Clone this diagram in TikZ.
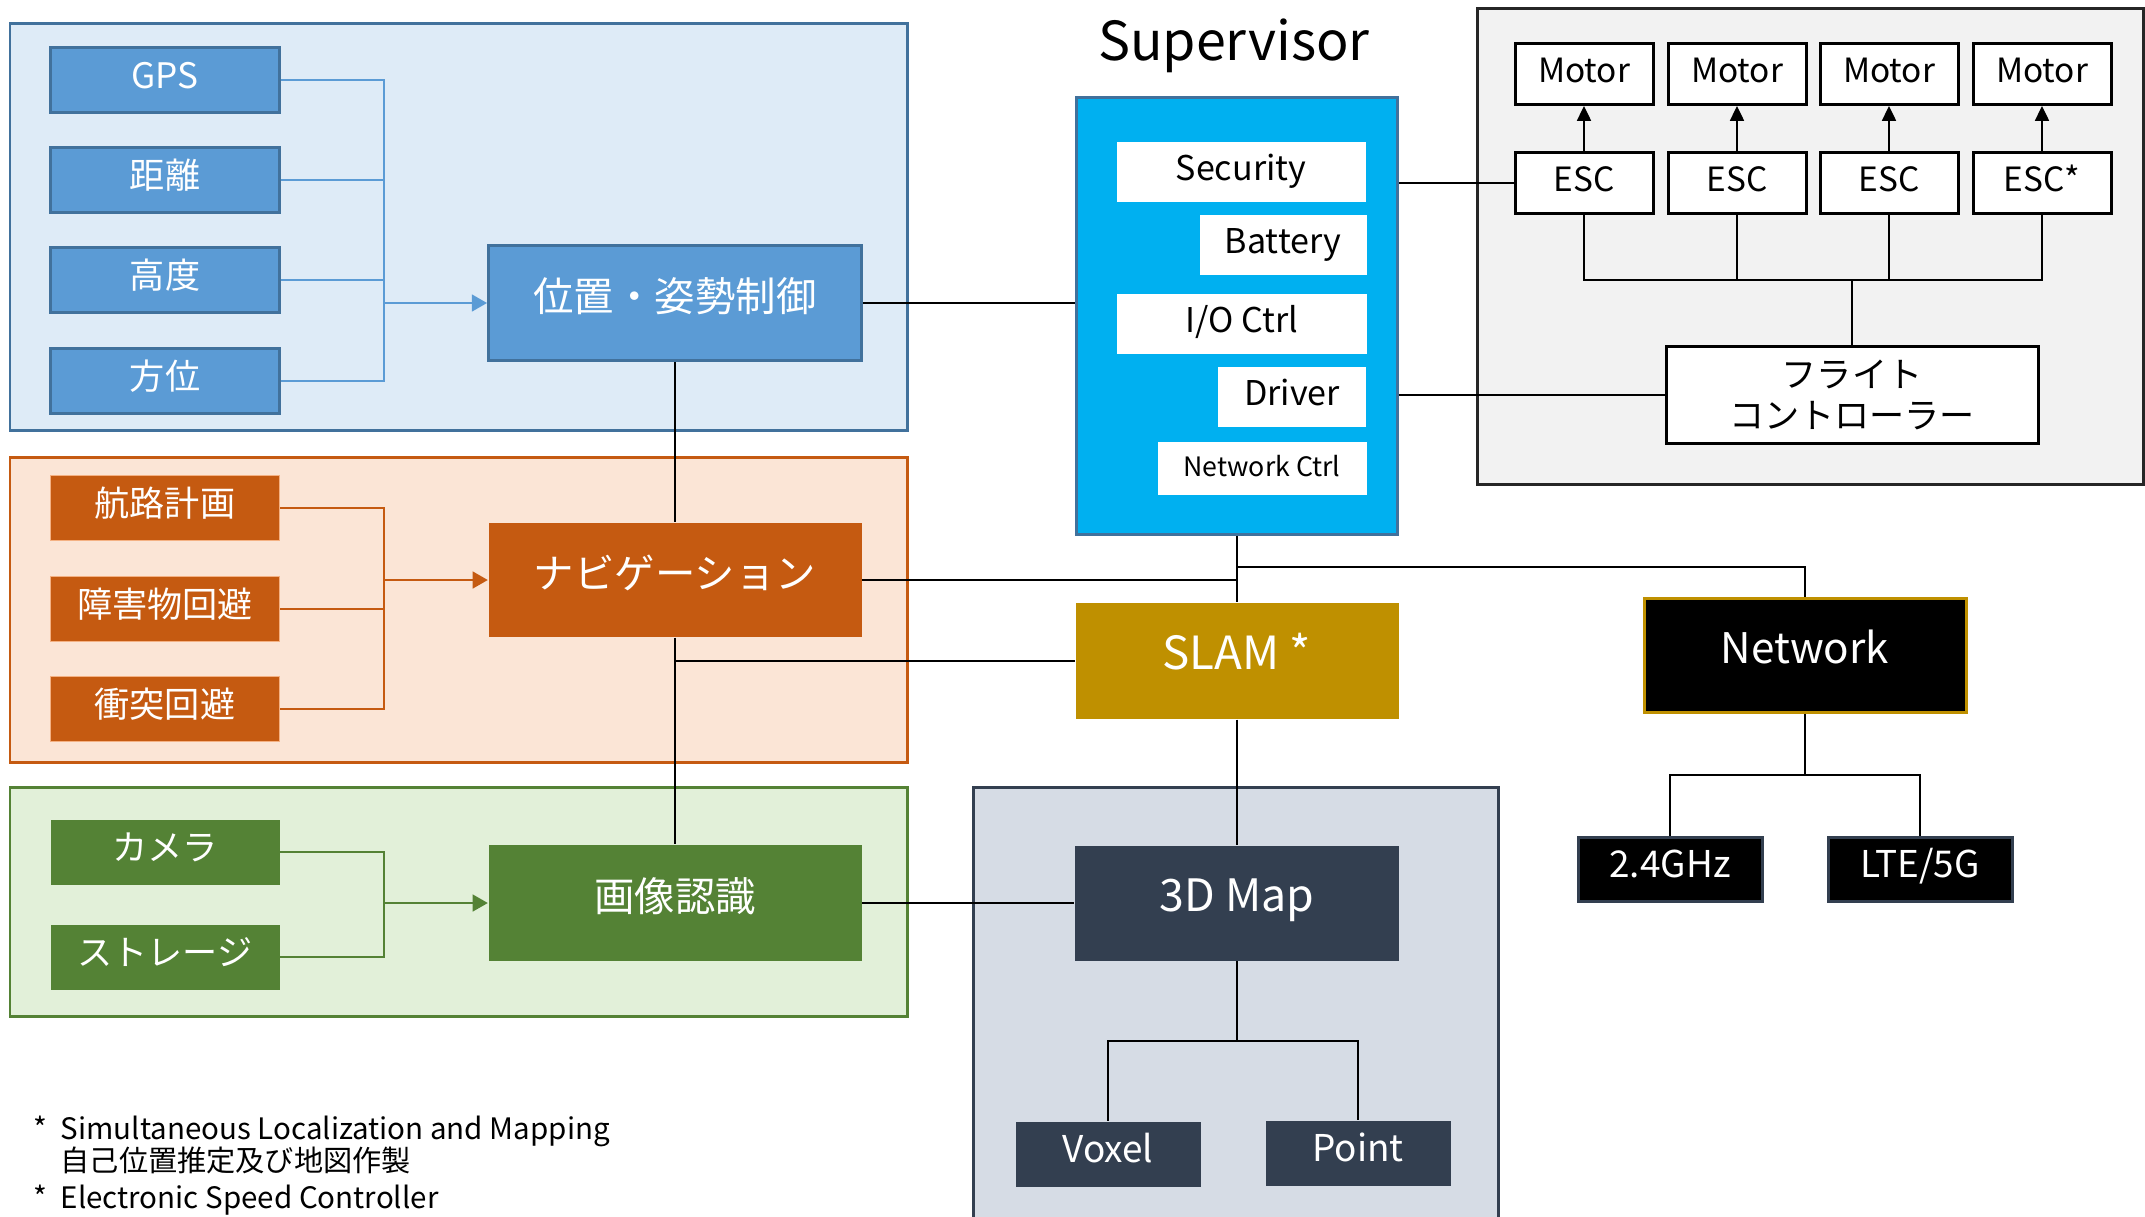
\documentclass[tikz,border=0pt]{standalone}
\usepackage{fontspec}
\setmainfont{Noto Sans CJK JP}
\usetikzlibrary{arrows.meta}

\definecolor{blueA}{HTML}{5B9BD5}
\definecolor{blueD}{HTML}{41719C}
\definecolor{blueL}{HTML}{DEEBF7}
\definecolor{orangeA}{HTML}{C55A11}
\definecolor{orangeE}{HTML}{F4B183}
\definecolor{orangeL}{HTML}{FBE5D6}
\definecolor{greenA}{HTML}{548235}
\definecolor{greenL}{HTML}{E2F0D9}
\definecolor{cyanS}{HTML}{00B0F0}
\definecolor{gold}{HTML}{BF9000}
\definecolor{navy}{HTML}{333F50}
\definecolor{navyL}{HTML}{D6DCE5}
\definecolor{grayL}{HTML}{F2F2F2}
\definecolor{grayD}{HTML}{262626}

\tikzset{
  raised/.style={text height=0.72em, text depth=0.22em},
  box/.style={inner sep=0pt, align=center, text=white, raised},
  small/.style={box, minimum width=22.9mm, minimum height=6.5mm, font=\fontsize{10}{12}\selectfont},
  big/.style={box, minimum width=37.3mm, minimum height=11.5mm, font=\fontsize{11.5}{14}\selectfont},
  bluebox/.style={fill=blueA, draw=blueD, line width=0.85pt},
  orangebox/.style={fill=orangeA, draw=orangeE, line width=0.4pt},
  greenbox/.style={fill=greenA},
  mapbox/.style={box, fill=navy, minimum width=18.5mm, minimum height=6.5mm, font=\fontsize{10.5}{12}\selectfont},
  radiobox/.style={box, fill=black, draw=navy, line width=0.85pt, minimum width=18.4mm, minimum height=6.4mm, font=\fontsize{10.5}{12}\selectfont},
  wbox/.style={inner sep=0pt, raised, fill=white, minimum height=6mm, font=\fontsize{9.7}{12}\selectfont},
  mbox/.style={inner sep=0pt, draw=black, line width=0.85pt, fill=white, minimum width=13.8mm, minimum height=6.1mm, font=\fontsize{9.5}{12}\selectfont},
  frame/.style={line width=0.85pt},
  wire/.style={line width=0.4pt},
  feed/.style={line width=0.5pt, -{Triangle[length=4.3pt,width=4.8pt]}},
  tip/.style={line width=0.4pt, -{Triangle[length=4.2pt,width=4pt]}},
  note/.style={anchor=base west, inner sep=0pt}
}

\begin{document}
\begin{tikzpicture}[x=0.1mm, y=-0.1mm]
	\useasboundingbox (0,0) rectangle (2145,1216);
	%group frames
	\draw[frame, draw=blueD, fill=blueL] (10,23) rectangle (907,430);
	\draw[frame, draw=orangeA, fill=orangeL] (10,457) rectangle (907,762);
	\draw[frame, draw=greenA, fill=greenL] (10,787) rectangle (907,1016);
	\draw[frame, draw=navy, fill=navyL] (973,787) rectangle (1498,1235);
	\draw[frame, draw=grayD, fill=grayL] (1477,8) rectangle (2143,484);
	%position and attitude
	\node[small, bluebox] (gps) at (165,80) {GPS};
	\node[small, bluebox] (dist) at (165,180) {距離};
	\node[small, bluebox] (alt) at (165,280) {高度};
	\node[small, bluebox] (head) at (165,381) {方位};
	\node[big, bluebox] (posctrl) at (675,303) {位置・姿勢制御};
	\coordinate (posbus) at (384,303);
	\foreach \n in {gps,dist,alt,head}
	\draw[wire, blueA] (\n.east) -| (posbus);
	\draw[feed, blueA] (posbus) -- (posctrl.west);
	%navigation
	\node[small, orangebox] (route) at (165,508) {航路計画};
	\node[small, orangebox] (obst) at (165,609) {障害物回避};
	\node[small, orangebox] (crash) at (165,709) {衝突回避};
	\node[big, fill=orangeA, minimum height=11.4mm] (nav) at (675,580) {ナビゲーション};
	\coordinate (navbus) at (384,580);
	\foreach \n in {route,obst,crash}
	\draw[wire, orangeA] (\n.east) -| (navbus);
	\draw[feed, orangeA] (navbus) -- (nav.west);
	%image recognition
	\node[small, greenbox] (camera) at (165,852) {カメラ};
	\node[small, greenbox] (storage) at (165,957) {ストレージ};
	\node[big, greenbox, minimum height=11.6mm] (img) at (675,903) {画像認識};
	\coordinate (imgbus) at (384,903);
	\foreach \n in {camera,storage}
	\draw[wire, greenA] (\n.east) -| (imgbus);
	\draw[feed, greenA] (imgbus) -- (img.west);
	%supervisor
	\node[anchor=base, font=\fontsize{15.3}{18}\selectfont] (suptitle) at (1234,60) {Supervisor};
	\node[fill=cyanS, draw=blueD, line width=0.8pt, minimum width=32.1mm, minimum height=43.7mm, inner sep=0pt] (sup) at (1237,316) {};
	\node[wbox, minimum width=24.9mm] (security) at (1241,172) {Security};
	\node[wbox, minimum width=16.7mm] (battery) at (1283,245) {Battery};
	\node[wbox, minimum width=25mm] (ioctrl) at (1242,324) {I/O Ctrl};
	\node[wbox, minimum width=14.8mm] (driver) at (1292,397) {Driver};
	\node[wbox, minimum width=20.9mm, minimum height=5.3mm, font=\fontsize{7.6}{10}\selectfont] (netctrl) at (1262,468) {Network Ctrl};
	%flight unit
	\node[mbox, minimum width=37.2mm, minimum height=9.7mm, align=center, font=\fontsize{10}{11.7}\selectfont] (fc) at (1852,395) {フライト\\コントローラー};
	\coordinate (escbus) at (1852,280);
	\foreach \i/\x/\lbl in {1/1584/ESC,2/1737/ESC,3/1889/ESC,4/2042/ESC*} {
		\node[mbox, raised] (motor\i) at (\x,74) {Motor};
		\node[mbox, raised] (esc\i) at (\x,183) {\lbl};
		\draw[tip] (esc\i) -- (motor\i);
		\draw[wire] (esc\i.south) |- (escbus);
	}
	\draw[wire] (escbus) -- (fc.north);
	%slam, map, network
	\node[box, fill=gold, minimum width=32.3mm, minimum height=11.6mm, font=\fontsize{13}{15}\selectfont] (slam) at (1237,661) {SLAM *};
	\node[box, fill=navy, minimum width=32.4mm, minimum height=11.5mm, font=\fontsize{12.7}{15}\selectfont] (map) at (1237,903) {3D Map};
	\node[mapbox] (voxel) at (1108,1154) {Voxel};
	\node[mapbox] (point) at (1358,1153) {Point};
	\node[box, fill=black, draw=gold, line width=0.85pt, minimum width=32.2mm, minimum height=11.4mm, font=\fontsize{12}{15}\selectfont] (network) at (1805,655) {Network};
	\node[radiobox] (ghz) at (1670,869) {2.4GHz};
	\node[radiobox] (lte) at (1920,869) {LTE/5G};
	%connections
	\draw[wire] (posctrl.east) -- (posctrl.east -| sup.west);
	\draw[wire] (posctrl.south) -- (nav.north);
	\draw[wire] (nav.south) -- (img.north);
	\draw[wire] (nav.east) -- (nav.east -| sup.south);
	\draw[wire] (nav.south |- slam.west) -- (slam.west);
	\draw[wire] (img.east) -- (map.west);
	\draw[wire] (sup.south) -- (slam.north);
	\draw[wire] (slam.south) -- (map.north);
	\coordinate (netsplit) at (1237,567);
	\draw[wire] (netsplit) -| (network.north);
	\draw[wire] (esc1.west -| sup.east) -- (esc1.west);
	\draw[wire] (fc.west -| sup.east) -- (fc.west);
	\coordinate (mapsplit) at (1237,1041);
	\draw[wire] (map.south) -- (mapsplit);
	\draw[wire] (mapsplit) -| (voxel.north);
	\draw[wire] (mapsplit) -| (point.north);
	\coordinate (radiosplit) at (1805,775);
	\draw[wire] (network.south) -- (radiosplit);
	\draw[wire] (radiosplit) -| (ghz.north);
	\draw[wire] (radiosplit) -| (lte.north);
	%notes
	\node[note, font=\fontsize{8.4}{10}\selectfont] (note1) at (33,1139) {*\ \ Simultaneous Localization and Mapping};
	\node[note, font=\fontsize{8.3}{10}\selectfont] (note2) at (60,1171) {自己位置推定及び地図作製};
	\node[note, font=\fontsize{8.4}{10}\selectfont] (note3) at (33,1208) {*\ \ Electronic Speed Controller};
\end{tikzpicture}
\end{document}
